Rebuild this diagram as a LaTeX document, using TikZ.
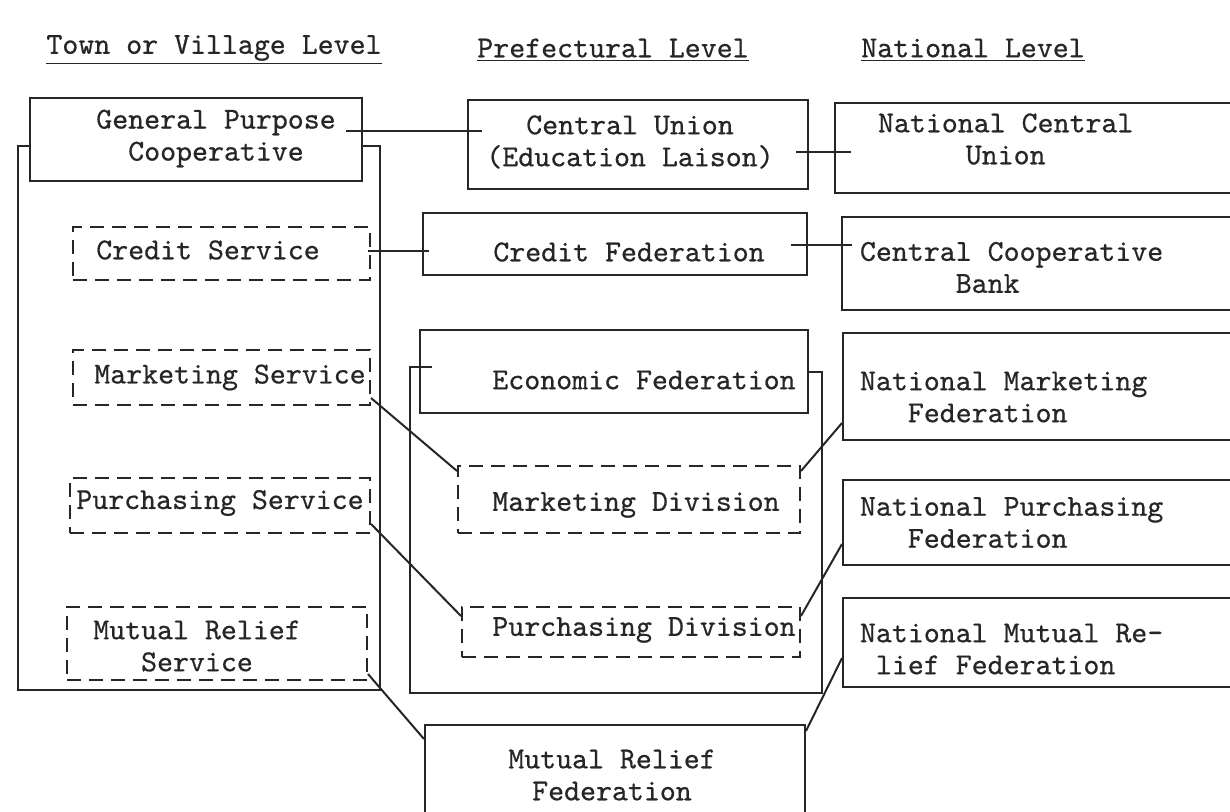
\documentclass[tikz,border=0pt]{standalone}
\usepackage{fontspec}
\newfontfamily\typew[FakeBold=0.6]{lmmono10-regular.otf}
\usepackage{tikz}
\usetikzlibrary{positioning}

\begin{document}
\begin{tikzpicture}[x=0.5pt,y=-0.5pt,line width=1pt,color=black!85]
	\tikzstyle{every node}=[font=\typew\fontsize{15.2}{16}\selectfont]
	\tikzstyle{box}=[rectangle,draw,inner sep=0pt]
	\tikzstyle{dbox}=[box,dash pattern=on 7pt off 4pt]
	\tikzstyle{lbl}=[inner sep=0pt,align=center]
	\tikzstyle{every edge}=[draw]
	
	\useasboundingbox (0,0) rectangle (1230,812);
	\clip (0,0) rectangle (1230,812);
	
	% column headings
	\node[lbl] (h1) at (214,50) {\underline{Town or Village Level}};
	\node[lbl] (h2) at (613,50) {\underline{Prefectural Level}};
	\node[lbl] (h3) at (973,50) {\underline{National Level}};
	
	% town or village level
	\node[box,minimum width=166pt,minimum height=41.5pt] (gpc) at (196,139.5) {};
	\node[dbox,minimum width=148.5pt,minimum height=26.5pt] (cs) at (221.5,253.5) {};
	\node[dbox,minimum width=148.5pt,minimum height=27.5pt] (ms) at (221.5,377.5) {};
	\node[dbox,minimum width=150pt,minimum height=27.5pt] (ps) at (220,505.5) {};
	\node[dbox,minimum width=150pt,minimum height=36.5pt] (mrs) at (217,643.5) {};
	
	\node[lbl] (gpc-t) at ([xshift=10pt,yshift=0.5pt]gpc.center) {General Purpose\\Cooperative};
	\node[lbl] (cs-t) at ([xshift=-6.75pt,yshift=1.75pt]cs.center) {Credit Service};
	\node[lbl] (ms-t) at ([xshift=4.25pt]ms.center) {Marketing Service};
	\node[lbl] (ps-t) at ([yshift=1.25pt]ps.center) {Purchasing Service};
	\node[lbl] (mrs-t) at ([xshift=-10pt,yshift=-1.25pt]mrs.center) {Mutual Relief\\Service};
	
	\draw (gpc.west |- 0,146) -| (18,690) -| (380,146) -- (gpc.east |- 0,146);
	
	% prefectural level
	\node[box,minimum width=170pt,minimum height=44.5pt] (cu) at (638,144.5) {};
	\node[box,minimum width=192pt,minimum height=31pt] (cf) at (615,244) {};
	\node[box,minimum width=194pt,minimum height=41.5pt] (ef) at (614,371.5) {};
	\node[dbox,minimum width=171pt,minimum height=33.5pt] (md) at (629,499.5) {};
	\node[dbox,minimum width=169pt,minimum height=25pt] (pd) at (631,632) {};
	\node[box,minimum width=190pt,minimum height=52.5pt] (mrf) at (615,777.5) {};
	
	\node[lbl] (cu-t) at ([xshift=-4pt,yshift=1.25pt]cu.center) {Central Union\\(Education Laison)};
	\node[lbl] (cf-t) at ([xshift=7pt,yshift=-4pt]cf.center) {Credit Federation};
	\node[lbl] (ef-t) at ([xshift=15pt,yshift=-4.25pt]ef.center) {Economic Federation};
	\node[lbl] (md-t) at ([xshift=3.5pt,yshift=-2.75pt]md.center) {Marketing Division};
	\node[lbl] (pd-t) at ([xshift=6.5pt,yshift=1pt]pd.center) {Purchasing Division};
	\node[lbl] (mrf-t) at ([xshift=-1.5pt,yshift=1.25pt]mrf.center) {Mutual Relief\\Federation};
	
	\draw (432,367) -- (410,367) |- (822,693) -- (822,372) -- (ef.east |- 0,372);
	
	% national level
	\node[box,minimum width=227.5pt,minimum height=45pt] (ncu) at (1062.5,148) {};
	\node[box,minimum width=224pt,minimum height=46.5pt] (ccb) at (1066,263.5) {};
	\node[box,minimum width=223.5pt,minimum height=53.5pt] (nmf) at (1066.5,386.5) {};
	\node[box,minimum width=223.5pt,minimum height=42.5pt] (npf) at (1066.5,522.5) {};
	\node[box,minimum width=223.5pt,minimum height=44.5pt] (nmrf) at (1066.5,642.5) {};
	
	\node[lbl] (ncu-t) [right=21.5pt of ncu.west,yshift=4.5pt] {National Central\\Union};
	\node[lbl,align=left] (ccb-t) [right=9pt of ccb.west,yshift=-2pt] {Central Cooperative\\\phantom{Centra}Bank};
	\node[lbl,align=left] (nmf-t) [right=8.5pt of nmf.west,yshift=-5.25pt] {National Marketing\\\phantom{Nat}Federation};
	\node[lbl,align=left] (npf-t) [right=8.5pt of npf.west] {National Purchasing\\\phantom{Nat}Federation};
	\node[lbl,align=left] (nmrf-t) [right=8.5pt of nmrf.west,yshift=-3.25pt] {National Mutual Re-\\\phantom{N}lief Federation};
	
	% links
	\path (gpc.east |- 0,131) edge[shorten <=-8.5pt,shorten >=-7.5pt] (cu.west |- 0,131);
	\path (cu.east |- 0,152) edge[shorten <=-6.5pt,shorten >=-8.5pt] (ncu.west |- 0,152);
	\path (cs.east |- 0,251) edge[shorten <=-1.5pt,shorten >=-3.5pt] (cf.west |- 0,251);
	\path (cf.east |- 0,245) edge[shorten <=-8.5pt,shorten >=-5.5pt] (ccb.west |- 0,245);
	\path ([yshift=4pt]ms.south east) edge ([yshift=-3pt]md.north west);
	\path ([yshift=5pt]ps.south east) edge ([yshift=-5pt]pd.north west);
	\path ([yshift=3.5pt]mrs.south east) edge ([yshift=-7.5pt]mrf.north west);
	\path ([yshift=-3pt]md.north east) edge ([yshift=9pt]nmf.south west);
	\path ([yshift=-5pt]pd.north east) edge ([yshift=11pt]npf.south west);
	\path ([yshift=-3.5pt]mrf.north east) edge ([yshift=15pt]nmrf.south west);
	
\end{tikzpicture}
\end{document}
